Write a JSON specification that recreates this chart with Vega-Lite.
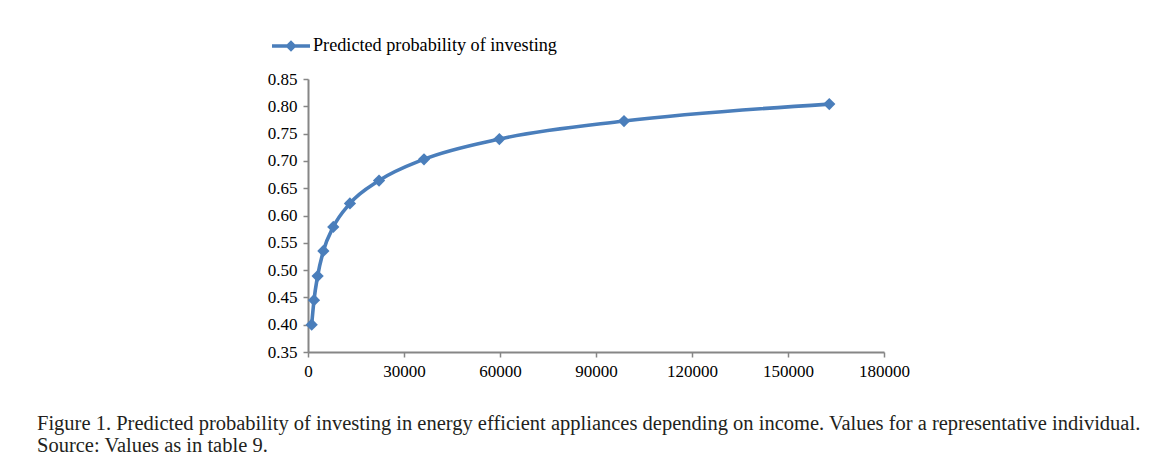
{
  "$schema": "https://vega.github.io/schema/vega-lite/v6.json",
  "width": 576,
  "height": 273,
  "autosize": {"type": "none"},
  "padding": {"left": 308, "top": 79, "right": 269, "bottom": 120},
  "background": "white",
  "config": {
    "view": {"stroke": null},
    "font": "Liberation Serif",
    "axis": {
      "domainColor": "#868686",
      "domainWidth": 2,
      "tickColor": "#868686",
      "tickWidth": 1.5,
      "tickSize": 5,
      "labelColor": "#000000",
      "labelFont": "Liberation Serif",
      "labelFontSize": 17,
      "grid": false,
      "title": null
    }
  },
  "title": {
    "text": "Figure 1. Predicted probability of investing in energy efficient appliances depending on income. Values for a representative individual.",
    "subtitle": "Source: Values as in table 9.",
    "orient": "bottom",
    "anchor": "start",
    "frame": "group",
    "dx": -271,
    "offset": 35,
    "font": "Liberation Serif",
    "fontSize": 20.5,
    "fontWeight": "normal",
    "color": "#231f20",
    "subtitleFont": "Liberation Serif",
    "subtitleFontSize": 20.5,
    "subtitleColor": "#231f20",
    "subtitlePadding": 1
  },
  "data": {
    "values": [
      {"income": 1150, "prob": 0.400, "series": "Predicted probability of investing"},
      {"income": 1875, "prob": 0.445, "series": "Predicted probability of investing"},
      {"income": 3000, "prob": 0.489, "series": "Predicted probability of investing"},
      {"income": 4800, "prob": 0.535, "series": "Predicted probability of investing"},
      {"income": 7900, "prob": 0.579, "series": "Predicted probability of investing"},
      {"income": 13100, "prob": 0.622, "series": "Predicted probability of investing"},
      {"income": 22200, "prob": 0.664, "series": "Predicted probability of investing"},
      {"income": 36250, "prob": 0.703, "series": "Predicted probability of investing"},
      {"income": 59800, "prob": 0.740, "series": "Predicted probability of investing"},
      {"income": 98750, "prob": 0.773, "series": "Predicted probability of investing"},
      {"income": 162900, "prob": 0.804, "series": "Predicted probability of investing"}
    ]
  },
  "encoding": {
    "x": {
      "field": "income",
      "type": "quantitative",
      "scale": {"domain": [0, 180000], "nice": false, "zero": false},
      "axis": {"values": [0, 30000, 60000, 90000, 120000, 150000, 180000], "format": "d", "labelPadding": 6, "labelFlush": false}
    },
    "y": {
      "field": "prob",
      "type": "quantitative",
      "scale": {"domain": [0.35, 0.85], "nice": false, "zero": false},
      "axis": {"values": [0.35, 0.4, 0.45, 0.5, 0.55, 0.6, 0.65, 0.7, 0.75, 0.8, 0.85], "format": ".2f", "labelPadding": 6}
    },
    "color": {
      "field": "series",
      "type": "nominal",
      "scale": {"range": ["#4A7EBB"]},
      "legend": {
        "orient": "none",
        "legendX": -36,
        "legendY": -52,
        "title": null,
        "symbolType": "M-1,-0.09L1,-0.09L1,0.09L-1,0.09Z M0,-0.3L0.3,0L0,0.3L-0.3,0Z",
        "symbolSize": 1444,
        "symbolStrokeWidth": 0,
        "symbolFillColor": "#4A7EBB",
        "symbolOpacity": 1,
        "labelFont": "Liberation Serif",
        "labelFontSize": 18.2,
        "labelColor": "#000000",
        "labelOffset": 3,
        "labelLimit": 0,
        "padding": 0
      }
    }
  },
  "layer": [
    {"mark": {"type": "line", "interpolate": "monotone", "strokeWidth": 3.6}},
    {"mark": {"type": "point", "shape": "diamond", "filled": true, "size": 150, "opacity": 1}}
  ]
}
